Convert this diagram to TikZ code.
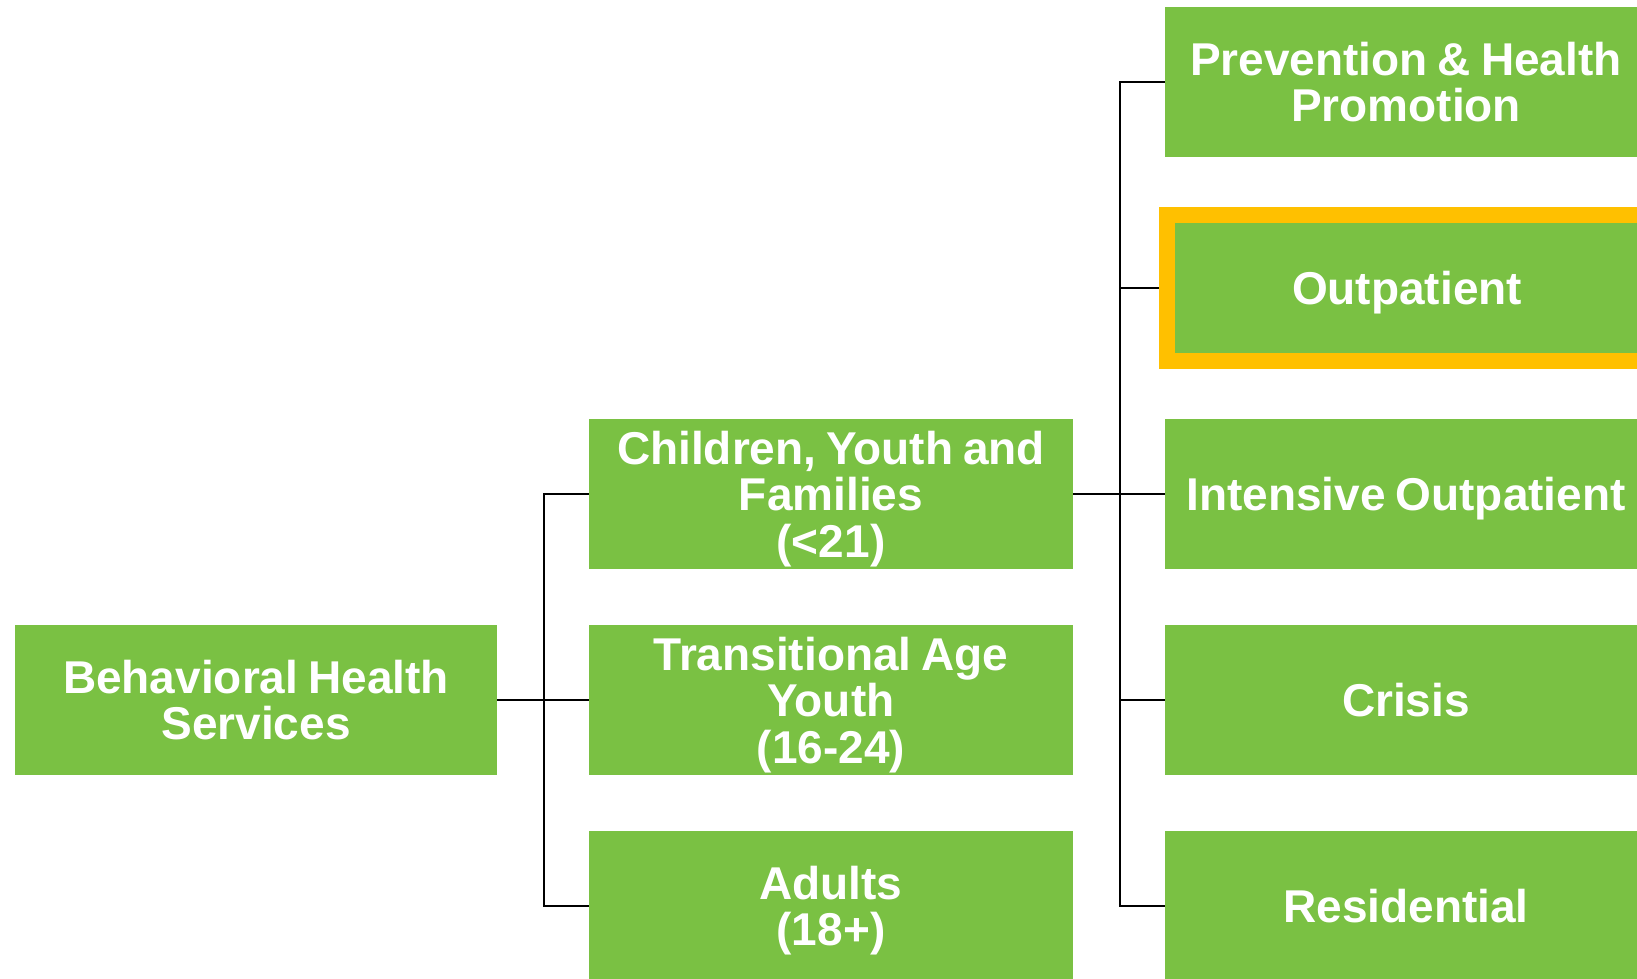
\documentclass[tikz,border=0pt]{standalone}
\usepackage{fontspec}
\setmainfont{Liberation Sans}
\usetikzlibrary{backgrounds}
\definecolor{boxgreen}{HTML}{7AC143}
\definecolor{hlyellow}{HTML}{FFC000}
\begin{document}
\begin{tikzpicture}[x=1pt,y=-1pt,
  box/.style={rectangle, fill=boxgreen, inner sep=0pt, minimum width=482pt, minimum height=150pt,
    text=white, align=center, text width=474pt,
    font=\bfseries\fontsize{46}{46.5}\selectfont, text height=33pt,
    execute at begin node={\spaceskip=10pt\relax}},
  oneline/.style={text depth=0pt},
  twolines/.style={text depth=46.5pt},
  threelines/.style={text depth=93pt},
  hl/.style={draw=hlyellow, line width=16pt, minimum width=480pt, minimum height=146pt},
  conn/.style={draw=black, line width=1.5pt}]
\useasboundingbox (0,0) rectangle (1637,978);
\clip (0,0) rectangle (1637,978);
% left column
\node[box,twolines] (bhs) at (256,700) {Behavioral Health\\Services};
% middle column
\node[box,threelines,minimum width=484pt] (cyf) at (831,494) {Children, Youth and\\Families\\(<21)};
\node[box,threelines,minimum width=484pt] (tay) at (831,700) {Transitional Age\\Youth\\(16-24)};
\node[box,twolines,minimum width=484pt] (adu) at (831,906) {Adults\\(18+)};
% right column
\node[box,twolines] (pre) at (1406,82) {Prevention \& Health\\Promotion};
\node[box,oneline,hl] (out) at (1407,288) {Outpatient};
\node[box,oneline] (int) at (1406,494) {Intensive Outpatient};
\node[box,oneline] (cri) at (1406,700) {Crisis};
\node[box,oneline] (res) at (1406,906) {Residential};
% connectors
\begin{scope}[on background layer]
  \path (bhs.east) ++(47,0) coordinate (ls);
  \draw[conn] (bhs.east) -- (ls) |- (cyf.west);
  \draw[conn] (ls) |- (tay.west);
  \draw[conn] (ls) |- (adu.west);
  \path (cyf.east) ++(47,0) coordinate (rs);
  \draw[conn] (cyf.east) -- (rs) |- (pre.west);
  \draw[conn] (rs) |- (out.west);
  \draw[conn] (rs) |- (int.west);
  \draw[conn] (rs) |- (cri.west);
  \draw[conn] (rs) |- (res.west);
\end{scope}
\end{tikzpicture}
\end{document}
